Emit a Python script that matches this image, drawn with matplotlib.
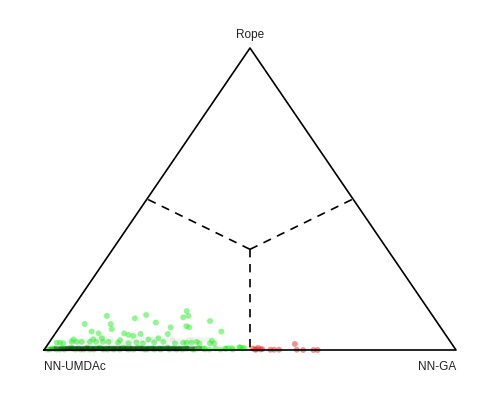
"""Bayesian signed-rank simplex plot: NN-UMDAc vs NN-GA with rope."""

import matplotlib
matplotlib.use("Agg")
import matplotlib.pyplot as plt
import numpy as np

VERTEX_LABELS = ["NN-UMDAc", "Rope", "NN-GA"]

# posterior samples, scattered part (probability of rope, probability of NN-GA)
p_rope = [0.086, 0.113, 0.086, 0.069, 0.061, 0.055, 0.105, 0.116, 0.091, 0.075,
          0.129, 0.108, 0.113, 0.079, 0.075, 0.053, 0.096, 0.055, 0.050, 0.047,
          0.053, 0.061, 0.035, 0.039, 0.025, 0.027, 0.033, 0.024, 0.027, 0.025,
          0.022, 0.022, 0.024, 0.024, 0.022, 0.027, 0.035, 0.027, 0.027, 0.027,
          0.035, 0.027, 0.039, 0.027, 0.022, 0.024, 0.024, 0.024, 0.027, 0.022,
          0.031, 0.022, 0.022, 0.008, 0.004, 0.002, 0.006, 0.006, 0.009, 0.007,
          0.002, 0.002, 0.005, 0.007, 0.003, 0.001, 0.001, 0.001, 0.020, 0.001,
          0.000, 0.000, 0.000, 0.001]
p_ga = [0.056, 0.096, 0.119, 0.130, 0.085, 0.105, 0.168, 0.190, 0.226, 0.270,
        0.282, 0.284, 0.294, 0.306, 0.315, 0.274, 0.355, 0.167, 0.180, 0.193,
        0.208, 0.400, 0.236, 0.258, 0.255, 0.276, 0.168, 0.168, 0.143, 0.212,
        0.229, 0.194, 0.019, 0.027, 0.036, 0.054, 0.054, 0.066, 0.078, 0.098,
        0.102, 0.113, 0.121, 0.130, 0.307, 0.326, 0.334, 0.346, 0.357, 0.366,
        0.392, 0.402, 0.392, 0.472, 0.440, 0.390, 0.453, 0.444, 0.470, 0.482,
        0.515, 0.525, 0.505, 0.516, 0.528, 0.549, 0.558, 0.570, 0.599, 0.613,
        0.629, 0.654, 0.664, 0.512]

# dense samples sitting on the bottom edge
band_rope = [0.004, 0.006, 0.003, 0.008, 0.005, 0.010, 0.004, 0.007, 0.003, 0.009,
             0.006, 0.004, 0.011, 0.005, 0.007, 0.003, 0.008, 0.006, 0.004, 0.009,
             0.005, 0.007, 0.003, 0.010, 0.006, 0.004, 0.008, 0.005, 0.003, 0.007,
             0.006, 0.009, 0.004, 0.005, 0.008, 0.003, 0.006, 0.004, 0.007, 0.005,
             0.003, 0.005, 0.004, 0.006, 0.003, 0.005, 0.004, 0.006, 0.003, 0.005,
             0.004, 0.006, 0.003, 0.005, 0.004, 0.006, 0.003, 0.005, 0.004, 0.006,
             0.003, 0.005, 0.004, 0.006, 0.003, 0.005, 0.004, 0.006, 0.003, 0.005]
band_ga = [0.010, 0.021, 0.034, 0.042, 0.055, 0.061, 0.073, 0.080, 0.092, 0.101,
           0.112, 0.118, 0.127, 0.135, 0.146, 0.152, 0.163, 0.171, 0.180, 0.188,
           0.196, 0.205, 0.214, 0.221, 0.232, 0.240, 0.249, 0.257, 0.266, 0.275,
           0.284, 0.293, 0.302, 0.311, 0.322, 0.334, 0.345, 0.357, 0.371, 0.386,
           0.005, 0.016, 0.027, 0.038, 0.048, 0.066, 0.086, 0.097, 0.107, 0.122,
           0.141, 0.157, 0.167, 0.184, 0.201, 0.227, 0.245, 0.262, 0.279, 0.297,
           0.318, 0.339, 0.362, 0.380, 0.398, 0.412, 0.426, 0.437, 0.455, 0.478]

# darkest core of the bottom edge
core_rope = [0.004, 0.005, 0.003, 0.006, 0.004, 0.005, 0.003, 0.006, 0.004, 0.005,
             0.003, 0.006, 0.004, 0.005, 0.003, 0.006, 0.004, 0.005, 0.003, 0.006,
             0.004, 0.005, 0.003, 0.006]
core_ga = [0.040, 0.052, 0.065, 0.077, 0.090, 0.104, 0.116, 0.129, 0.143, 0.155,
           0.168, 0.181, 0.195, 0.208, 0.221, 0.236, 0.249, 0.262, 0.276, 0.290,
           0.305, 0.320, 0.335, 0.352]

# faint smear rows above the edge
smear_rope = [0.030, 0.036, 0.028, 0.033, 0.038, 0.030, 0.034]
smear_ga = [0.070, 0.120, 0.170, 0.225, 0.270, 0.320, 0.360]


def to_xy(rope, right):
    rope = np.asarray(rope, dtype=float)
    right = np.asarray(right, dtype=float)
    return right + rope / 2, rope


fig = plt.figure(figsize=(5, 4), dpi=100)
ax = fig.add_axes([0, 0, 1, 1])
ax.set_xlim(-44 / 412, 456 / 412)
ax.set_ylim(-50 / 302, 350 / 302)
ax.axis("off")

# triangle and region boundaries
ax.plot([0, 1, 0.5, 0], [0, 0, 1, 0], color="black", lw=1.2, zorder=4)
c = (0.5, 1 / 3)
for end in [(0.5, 0), (0.25, 0.5), (0.75, 0.5)]:
    ax.plot([c[0], end[0]], [c[1], end[1]], color="black", lw=1.2,
            ls=(0, (5, 4)), zorder=1)

sx, sy = to_xy(smear_rope, smear_ga)
ax.scatter(sx, sy, s=300, marker="_", color="#9aa89a", alpha=0.12, lw=4, zorder=1)

bx, by = to_xy(band_rope, band_ga)
ax.scatter(bx, by, s=18, color="#22ee22", alpha=0.5, lw=0, zorder=2)

kx, ky = to_xy(core_rope, core_ga)
ax.scatter(kx, ky, s=300, marker="_", color="#0b3d0b", alpha=0.35, lw=3, zorder=2)

left = 1 - np.asarray(p_rope) - np.asarray(p_ga)
colors = np.where(left >= np.asarray(p_ga), "#22ee22", "#ee2222")
x, y = to_xy(p_rope, p_ga)
ax.scatter(x, y, s=18, c=list(colors), alpha=0.5, lw=0, zorder=3)

font = dict(family="Liberation Sans", fontsize=8.5, color="#222222")
ax.text(0.5, 1 + 13 / 302, VERTEX_LABELS[1], ha="center", va="center", **font)
ax.text(0, -17 / 302, VERTEX_LABELS[0], ha="left", va="center", **font)
ax.text(1, -17 / 302, VERTEX_LABELS[2], ha="right", va="center", **font)

fig.savefig("out.png", dpi=100)
